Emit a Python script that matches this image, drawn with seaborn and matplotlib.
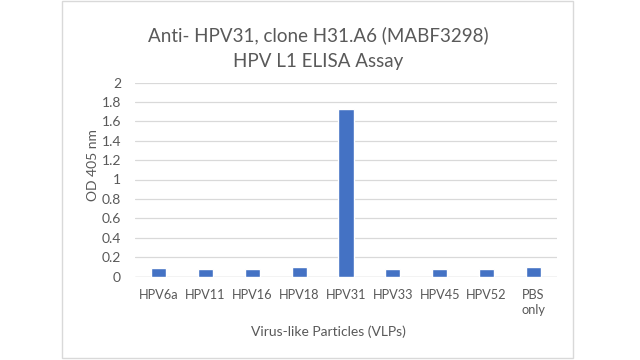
import matplotlib
matplotlib.use("Agg")
import matplotlib.pyplot as plt
import seaborn as sns
import pandas as pd
from matplotlib.patches import Rectangle

categories = ["HPV6a", "HPV11", "HPV16", "HPV18", "HPV31", "HPV33", "HPV45", "HPV52", "PBS\nonly"]
od_values = [0.085, 0.08, 0.08, 0.095, 1.73, 0.08, 0.08, 0.075, 0.095]
y_ticks = [0, 0.2, 0.4, 0.6, 0.8, 1, 1.2, 1.4, 1.6, 1.8, 2]
y_tick_labels = ["0", "0.2", "0.4", "0.6", "0.8", "1", "1.2", "1.4", "1.6", "1.8", "2"]

sns.set_theme(style="white")
plt.rcParams['font.family'] = ['Lato', 'DejaVu Sans']

df = pd.DataFrame({"cat": categories, "od": od_values})

W, H = 640, 360
fig = plt.figure(figsize=(6.4, 3.6), dpi=100)
fig.patch.set_facecolor("white")
fig.patches.append(Rectangle((62 / W, 1 - 358 / H), (573 - 62) / W, (358 - 1) / H,
                             transform=fig.transFigure, fill=False,
                             edgecolor="#d9d9d9", linewidth=1.0))

left, right, top, bottom = 135, 557, 82.5, 276.5
ax = fig.add_axes([left / W, 1 - bottom / H, (right - left) / W, (bottom - top) / H])

sns.barplot(data=df, x="cat", y="od", ax=ax, color="#4472C4", width=0.32,
            saturation=1, zorder=3)

ax.set_ylim(0, 2)
ax.set_xlim(-0.5, len(categories) - 0.5)
ax.set_yticks(y_ticks)
ax.set_yticklabels(y_tick_labels)
ax.yaxis.grid(True, color="#d9d9d9", linewidth=0.9, zorder=0)
ax.set_axisbelow(True)
for s in ax.spines.values():
    s.set_visible(False)
ax.axhline(0, color="#d9d9d9", linewidth=1.0, zorder=2)

ax.tick_params(axis="y", length=0, labelsize=10, labelcolor="#595959", pad=10)
ax.tick_params(axis="x", length=0, labelsize=9.2, labelcolor="#595959", pad=9)
for lbl in ax.get_xticklabels():
    lbl.set_linespacing(1.3)
    lbl.set_verticalalignment("top")

ax.set_xlabel("Virus-like Particles (VLPs)", fontsize=10, color="#595959")
ax.set_ylabel("OD 405 nm", fontsize=10, color="#595959")
ax.xaxis.set_label_coords((328 - left) / (right - left), (bottom - 331.7) / (bottom - top))
ax.yaxis.set_label_coords((93 - left) / (right - left), (bottom - 165) / (bottom - top))
ax.xaxis.label.set_verticalalignment("center")
ax.yaxis.label.set_verticalalignment("center")

fig.text(318 / W, 1 - 35 / H, "Anti- HPV31, clone H31.A6 (MABF3298)", ha="center", va="center",
         fontsize=13.5, color="#595959")
fig.text(318 / W, 1 - 62 / H, "HPV L1 ELISA Assay", ha="center", va="center",
         fontsize=13.5, color="#595959")

fig.savefig("out.png", dpi=100, facecolor="white")
